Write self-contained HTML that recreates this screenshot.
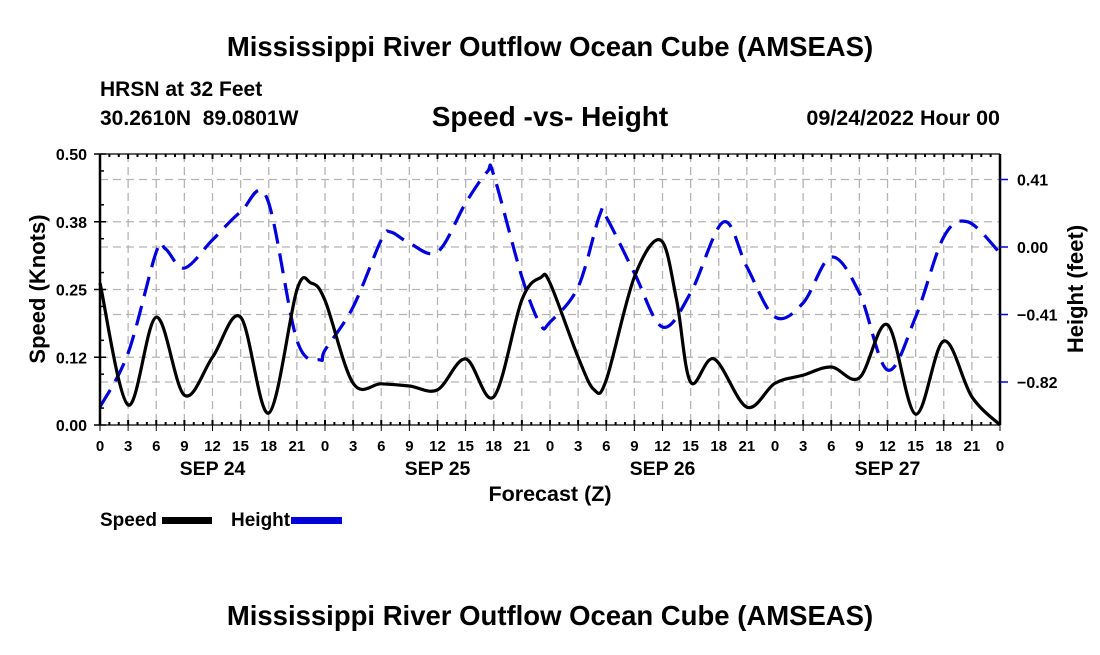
<!DOCTYPE html>
<html><head><meta charset="utf-8"><style>
body{margin:0;background:#fff;}
svg text{font-family:"Liberation Sans",Arial,sans-serif;font-weight:bold;fill:#000;white-space:pre;}
</style></head><body>
<svg id="chart" width="1100" height="650" viewBox="0 0 1100 650" xmlns="http://www.w3.org/2000/svg">
<rect width="1100" height="650" fill="#fff"/>
<text x="550" y="56" font-size="27.5" text-anchor="middle">Mississippi River Outflow Ocean Cube (AMSEAS)</text>
<text x="100" y="96" font-size="21">HRSN at 32 Feet</text>
<text x="100" y="125" font-size="21" xml:space="preserve">30.2610N  89.0801W</text>
<text x="550" y="126" font-size="28" text-anchor="middle">Speed -vs- Height</text>
<text x="1000" y="125" font-size="21.5" text-anchor="end">09/24/2022 Hour 00</text>
<g id="grid"></g>
<g id="marks"></g>
<g id="axes"></g>
<text transform="translate(45,289) rotate(-90)" font-size="22" text-anchor="middle">Speed (Knots)</text>
<text transform="translate(1083,289) rotate(-90)" font-size="22" text-anchor="middle">Height (feet)</text>
<text x="550" y="501" font-size="21.5" text-anchor="middle">Forecast (Z)</text>
<g>
<text x="100" y="526" font-size="19">Speed</text>
<rect x="162" y="517" width="50" height="7" fill="#000"/>
<text x="231" y="526" font-size="19">Height</text>
<rect x="291" y="517" width="51" height="7" fill="#0000dd"/>
</g>
<text x="550" y="625" font-size="27.5" text-anchor="middle">Mississippi River Outflow Ocean Cube (AMSEAS)</text>
</svg>
<script>
const speedHours=[0,3,6,9,12,15,18,21,22.5,24,27,30,33,36,39,42,45,47,48,51,52.7,54,57,59.8,61.5,63,65.5,69,72,75,78,81,84,87,90,93,96];
const speedValues=[0.262,0.037,0.199,0.055,0.125,0.199,0.022,0.249,0.262,0.230,0.077,0.076,0.072,0.065,0.122,0.052,0.231,0.272,0.262,0.125,0.065,0.083,0.273,0.341,0.231,0.079,0.122,0.033,0.077,0.092,0.107,0.087,0.185,0.020,0.155,0.052,0.0];
const heightHours=[0,3,6,7,9,12,15,17.8,21,23.5,24,27,30,31,33,36,39,41.3,42,45,47,48,51,53.3,54,57,60,63,66.5,69,72,75,78,81,84,87,90,92.6,96];
const heightValues=[-0.972,-0.644,-0.030,-0.012,-0.128,0.043,0.213,0.298,-0.565,-0.686,-0.626,-0.364,0.043,0.091,0.024,-0.030,0.267,0.456,0.437,-0.182,-0.474,-0.456,-0.243,0.194,0.182,-0.158,-0.486,-0.279,0.152,-0.121,-0.425,-0.34,-0.061,-0.279,-0.747,-0.425,0.061,0.152,-0.036];
const leftTicks=[0,0.125,0.25,0.375,0.5];
const leftTickLabels=["0.00","0.12","0.25","0.38","0.50"];
const rightTicks=[0.41,0,-0.41,-0.82];
const rightTickLabels=["0.41","0.00","\u22120.41","\u22120.82"];
const hourLabels=["0","3","6","9","12","15","18","21"];
const dayLabels=["SEP 24","SEP 25","SEP 26","SEP 27"];

const X0=100,X1=1000,Y0=154,Y1=425;
const xS=h=>X0+(X1-X0)*h/96;
const yL=v=>Y1-(Y1-Y0)*v/0.5;
const yR=v=>247-v*67.5/0.41;
const NS="http://www.w3.org/2000/svg";
function mk(tag,attrs,parent){const e=document.createElementNS(NS,tag);for(const k in attrs)e.setAttribute(k,attrs[k]);parent.appendChild(e);return e;}
const grid=document.getElementById('grid'),marks=document.getElementById('marks'),axes=document.getElementById('axes');
const gs={stroke:"#b4b4b4","stroke-width":1.3,"stroke-dasharray":"8,5"};
for(let i=1;i<32;i++){const x=xS(i*3);const l=mk('line',Object.assign({x1:x,x2:x,y1:Y0,y2:Y1},gs),grid);

}
leftTicks.slice(1,-1).forEach(v=>{const l=mk('line',Object.assign({x1:X0,x2:X1,y1:yL(v),y2:yL(v)},gs),grid);

});
rightTicks.forEach(v=>{const l=mk('line',Object.assign({x1:X0,x2:X1,y1:yR(v),y2:yR(v)},gs),grid);

});

function path(hours,vals,ys){
  const p=hours.map((h,i)=>[xS(h),ys(vals[i])]);
  let d="M"+p[0][0]+","+p[0][1];
  for(let i=0;i<p.length-1;i++){
    const a=p[Math.max(0,i-1)],b=p[i],c=p[i+1],e=p[Math.min(p.length-1,i+2)];
    const c1=[b[0]+(c[0]-a[0])/6,b[1]+(c[1]-a[1])/6],c2=[c[0]-(e[0]-b[0])/6,c[1]-(e[1]-b[1])/6];
    d+=" C"+c1+" "+c2+" "+c;
  }
  return d;
}
const hp=mk('path',{d:path(heightHours,heightValues,yR),fill:"none",stroke:"#0000dd","stroke-width":3.2,"stroke-dasharray":"20,10"},marks);


const sp=mk('path',{d:path(speedHours,speedValues,yL),fill:"none",stroke:"#000","stroke-width":3.2},marks);



mk('line',{x1:X0,x2:X1,y1:Y0,y2:Y0,stroke:"#000","stroke-width":1.2},axes);
mk('line',{x1:X0,x2:X1,y1:Y1,y2:Y1,stroke:"#000","stroke-width":1.2},axes);
mk('line',{x1:X0,x2:X0,y1:Y0,y2:Y1,stroke:"#000","stroke-width":2.5},axes);
mk('line',{x1:X1,x2:X1,y1:Y0,y2:Y1,stroke:"#000","stroke-width":2.5},axes);
for(let h=0;h<=96;h++){const x=xS(h);const len=h%3===0?5:3;
mk('line',{x1:x,x2:x,y1:Y0,y2:Y0+len,stroke:"#000","stroke-width":2},axes);
mk('line',{x1:x,x2:x,y1:Y1,y2:Y1-len,stroke:"#000","stroke-width":2},axes);
if(h%3===0) mk('line',{x1:x,x2:x,y1:Y1,y2:Y1+6,stroke:"#000","stroke-width":1},axes);}
for(let h=0;h<=96;h+=3){const t=mk('text',{x:xS(h),y:451,"font-size":15,"text-anchor":"middle"},axes);t.textContent=hourLabels[(h/3)%8];

}
dayLabels.forEach((s,i)=>{const t=mk('text',{x:xS(i*24+12),y:475,"font-size":19.5,"text-anchor":"middle"},axes);t.textContent=s;

});
leftTicks.forEach((v,i)=>{mk('line',{x1:X0-6,x2:X0+6,y1:yL(v),y2:yL(v),stroke:"#000","stroke-width":1.5},axes);
const t=mk('text',{x:87,y:yL(v)+6,"font-size":16,"text-anchor":"end"},axes);t.textContent=leftTickLabels[i];

});
for(let k=0;k<8;k++){const y=yL(0.0625*k+0.03125);mk('line',{x1:X0,x2:X0+4,y1:y,y2:y,stroke:"#000","stroke-width":1.5},axes);}
rightTicks.forEach((v,i)=>{mk('line',{x1:X1,x2:X1+8,y1:yR(v),y2:yR(v),stroke:"#0000dd","stroke-width":1.5},axes);
const t=mk('text',{x:1017,y:yR(v)+6,"font-size":16},axes);t.textContent=rightTickLabels[i];

});
</script>
</body></html>
